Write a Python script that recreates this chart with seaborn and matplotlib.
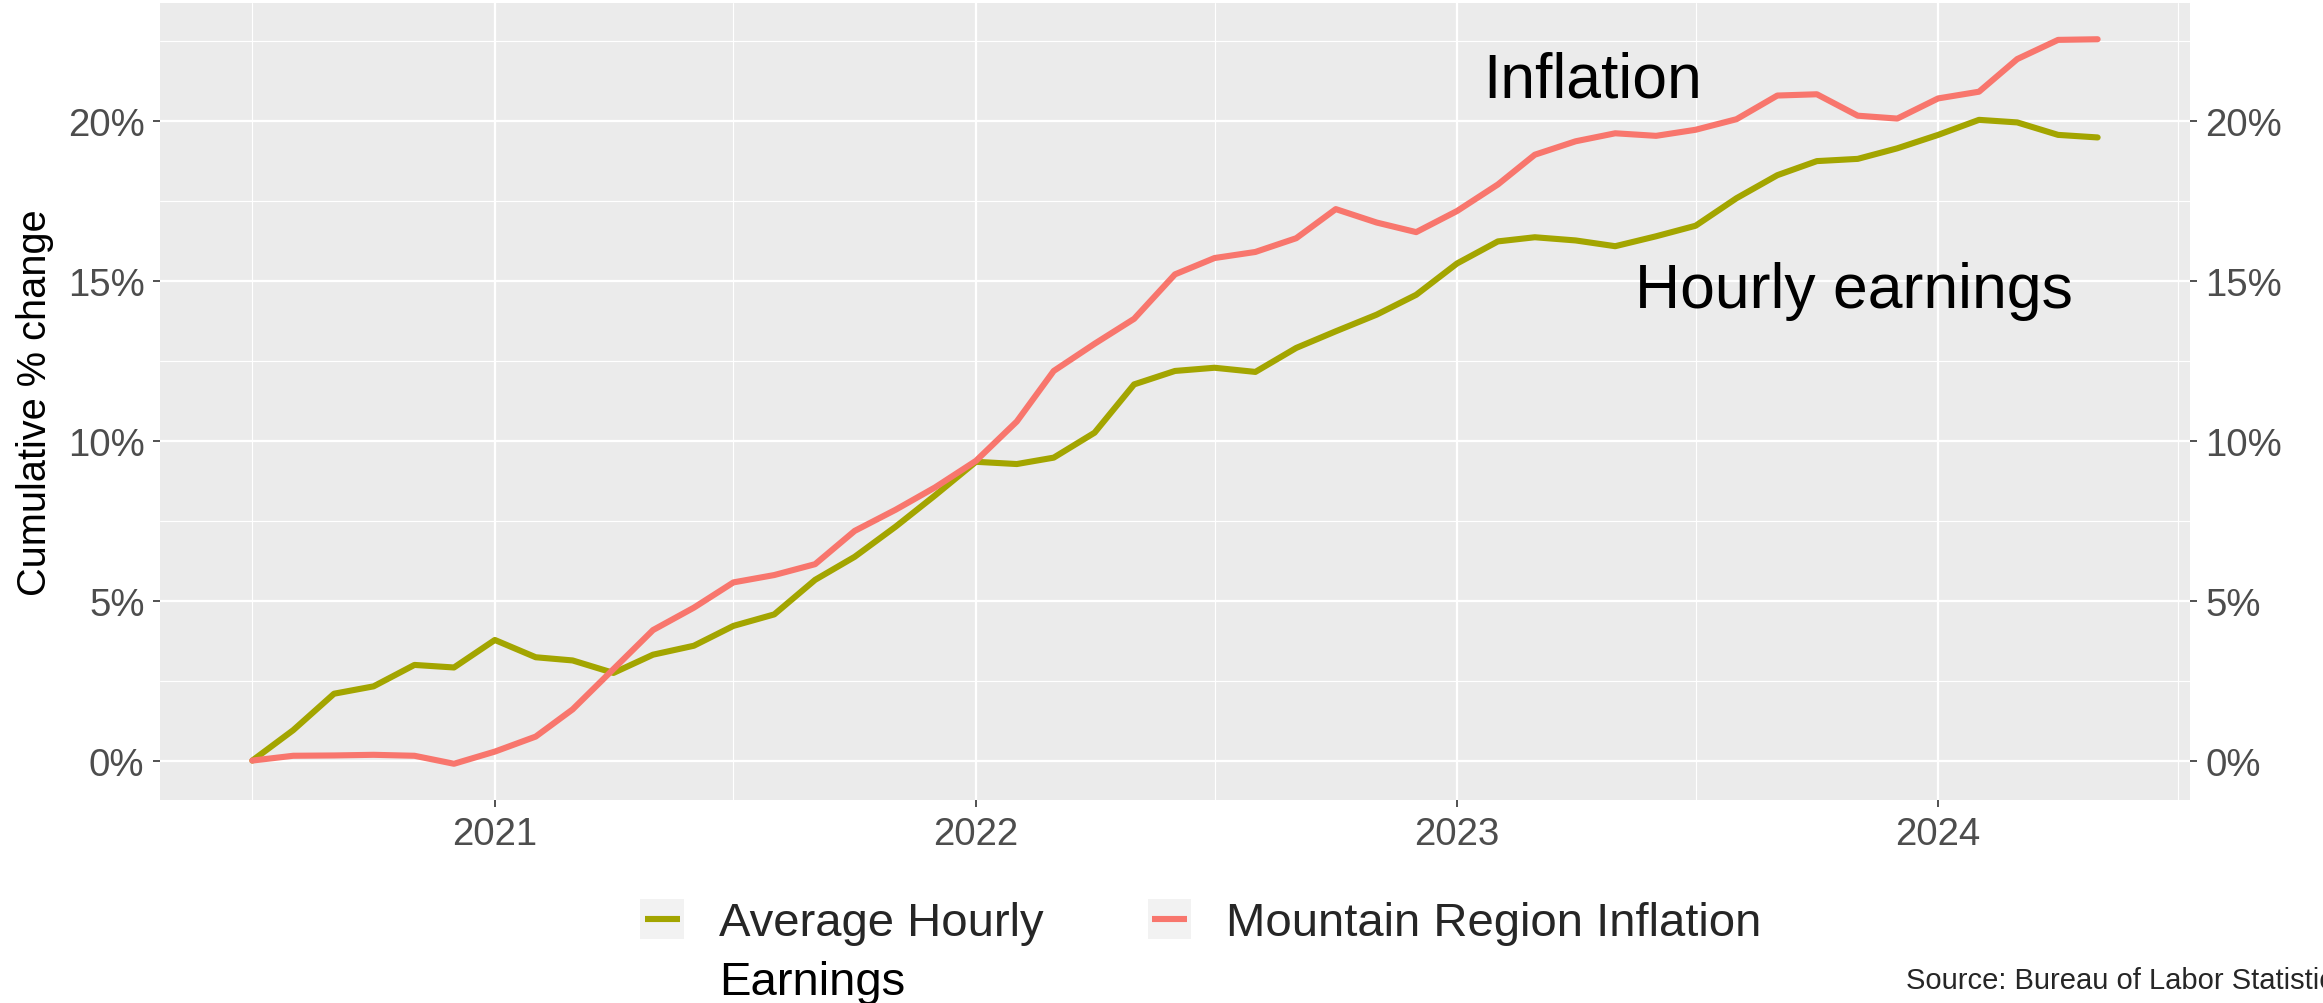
"""
Cumulative % change: average hourly earnings vs Mountain region inflation.
Writes out.png (2323x1004).
"""

import matplotlib

matplotlib.use("Agg")
import matplotlib.dates as mdates
import matplotlib.pyplot as plt
import pandas as pd
import seaborn as sns
from matplotlib.legend_handler import HandlerBase
from matplotlib.lines import Line2D
from matplotlib.patches import Rectangle
from matplotlib.ticker import FuncFormatter, MultipleLocator

# --- data (% change since Jul 2020) -----------------------------------------
START_MONTH = "2020-07-01"
N_MONTHS = 47

earnings = [
    0.0, 0.95, 2.09, 2.32, 2.99, 2.91,
    3.77, 3.23, 3.13, 2.74, 3.31, 3.59, 4.21, 4.57, 5.65, 6.37, 7.31, 8.29,
    9.34, 9.27, 9.47, 10.25, 11.76, 12.18, 12.28, 12.15, 12.90, 13.42, 13.94, 14.56,
    15.54, 16.23, 16.36, 16.26, 16.08, 16.39, 16.72, 17.58, 18.30, 18.74, 18.81, 19.14,
    19.56, 20.03, 19.95, 19.56, 19.48,
]
inflation = [
    0.0, 0.15, 0.16, 0.18, 0.15, -0.10,
    0.28, 0.75, 1.60, 2.86, 4.08, 4.78, 5.57, 5.80, 6.14, 7.18, 7.84, 8.54,
    9.37, 10.60, 12.18, 13.03, 13.81, 15.20, 15.71, 15.90, 16.33, 17.24, 16.82, 16.52,
    17.18, 18.01, 18.94, 19.36, 19.61, 19.53, 19.72, 20.05, 20.79, 20.83, 20.16, 20.07,
    20.70, 20.91, 21.93, 22.53, 22.55,
]

SERIES = ["Average Hourly Earnings", "Mountain Region Inflation"]
COLORS = ["#A3A500", "#F8766D"]
LEGEND_FIRST_LINE = "Average Hourly"
LEGEND_SECOND_LINE = "Earnings"

LABEL_INFLATION = ("Inflation", "2023-04-14", 20.75)
LABEL_EARNINGS = ("Hourly earnings", "2023-10-29", 14.17)
SOURCE = "Source: Bureau of Labor Statistics"

FONT = ["Liberation Sans", "DejaVu Sans"]


class KeyHandler(HandlerBase):
    """ggplot-like legend key: grey square with a line across it."""

    def create_artists(self, legend, orig_handle, xdescent, ydescent,
                       width, height, fontsize, trans):
        bg = Rectangle((-xdescent, -ydescent), width, height,
                       facecolor="#F2F2F2", edgecolor="none", transform=trans)
        y = -ydescent + height / 2
        ln = Line2D([-xdescent + 0.1 * width, -xdescent + 0.9 * width], [y, y],
                    color=orig_handle.get_color(),
                    linewidth=orig_handle.get_linewidth(),
                    solid_capstyle="butt", transform=trans)
        return [bg, ln]


def main() -> None:
    sns.set_theme(style="darkgrid", rc={
        "axes.facecolor": "#EBEBEB",
        "grid.color": "white",
        "axes.edgecolor": "none",
    })
    plt.rcParams["font.family"] = FONT

    dates = pd.date_range(START_MONTH, periods=N_MONTHS, freq="MS")
    df = pd.DataFrame({
        "date": list(dates) * 2,
        "value": earnings + inflation,
        "series": [SERIES[0]] * N_MONTHS + [SERIES[1]] * N_MONTHS,
    })

    fig = plt.figure(figsize=(11.615, 5.02), dpi=200)
    ax = fig.add_axes([0.0689, 0.2022, 0.8738, 0.7938])

    sns.lineplot(data=df, x="date", y="value", hue="series", hue_order=SERIES,
                 palette=COLORS, linewidth=2.2, ax=ax)

    # ggplot-style 5% expansion on both axes
    span = dates[-1] - dates[0]
    ax.set_xlim(dates[0] - span * 0.05, dates[-1] + span * 0.05)
    lo, hi = min(earnings + inflation), max(earnings + inflation)
    pad = (hi - lo) * 0.05
    ax.set_ylim(lo - pad, hi + pad)

    ax.xaxis.set_major_locator(mdates.YearLocator())
    ax.xaxis.set_major_formatter(mdates.DateFormatter("%Y"))
    ax.xaxis.set_minor_locator(mdates.MonthLocator(bymonth=7))
    ax.yaxis.set_major_locator(MultipleLocator(5))
    ax.yaxis.set_minor_locator(MultipleLocator(2.5))
    ax.yaxis.set_major_formatter(FuncFormatter(lambda v, _: f"{v:.0f}%"))

    ax.grid(which="major", color="white", linewidth=0.8)
    ax.grid(which="minor", color="white", linewidth=0.4)
    ax.tick_params(which="major", length=2.6, width=0.6, color="#333333",
                   labelcolor="#4D4D4D", labelsize=13.8, pad=3,
                   left=True, bottom=True, right=True, labelright=True)
    ax.tick_params(which="minor", length=0)
    for lab in ax.get_xticklabels() + ax.get_yticklabels():
        lab.set_family(FONT)

    ax.set_xlabel("")
    ax.set_ylabel("Cumulative % change", fontsize=14.3, color="black", labelpad=5)

    # direct labels on the lines
    for text, day, yv in (LABEL_INFLATION, LABEL_EARNINGS):
        ax.text(pd.Timestamp(day), yv, text, fontsize=22.5, color="black",
                ha="center", va="baseline")

    # legend at the bottom with grey keys; second line of the first label
    handles, _ = ax.get_legend_handles_labels()
    ax.get_legend().remove()
    leg = fig.legend(handles, [LEGEND_FIRST_LINE, SERIES[1]],
                     loc="center", bbox_to_anchor=(0.517, 0.081), ncol=2,
                     frameon=False, fontsize=17, handlelength=0.93,
                     handleheight=0.93, handletextpad=0.74, columnspacing=2.2,
                     handler_map={Line2D: KeyHandler()})
    fig.canvas.draw()
    ax.annotate(LEGEND_SECOND_LINE, xy=(0, 0), xycoords=leg.get_texts()[0],
                xytext=(0, -5.5), textcoords="offset points",
                ha="left", va="top", fontsize=17, color="black",
                annotation_clip=False)

    # caption runs off the right edge, as in the original
    fig.text(0.8205, 0.023, SOURCE, fontsize=10.5, ha="left", va="center")

    fig.savefig("out.png", dpi=200)
    plt.close(fig)


if __name__ == "__main__":
    main()
